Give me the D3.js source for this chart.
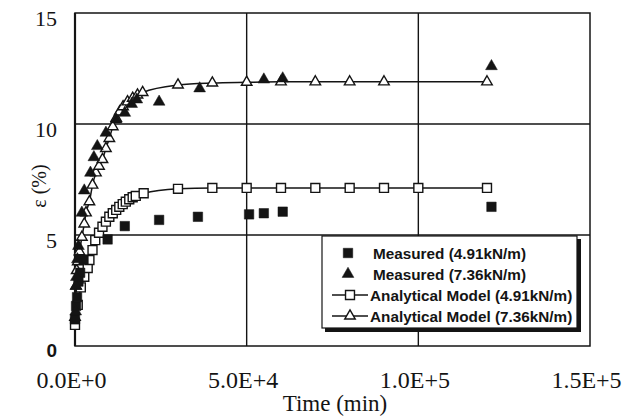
<!DOCTYPE html>
<html>
<head>
<meta charset="utf-8">
<script src="https://cdn.jsdelivr.net/npm/d3@7"></script>
<style>
  html, body { margin: 0; padding: 0; background: #fff; }
  svg { display: block; }
</style>
</head>
<body>
<svg id="chart" width="629" height="418"></svg>
<script>
// Creep strain vs. time: measured data and analytical model for two loads
const xTicks = [0, 50000, 100000, 150000];
const xTickLabels = ["0.0E+0", "5.0E+4", "1.0E+5", "1.5E+5"];
const yTicks = [0, 5, 10, 15];
const yTickLabels = ["0", "5", "10", "15"];

const seriesNames = [
  "Measured (4.91kN/m)",
  "Measured (7.36kN/m)",
  "Analytical Model (4.91kN/m)",
  "Analytical Model (7.36kN/m)"
];

// Measured, 4.91 kN/m
const meas491Time   = [0, 300, 600, 1000, 1500, 2500, 9500, 14500, 24500, 35800, 50700, 55000, 60500, 121300];
const meas491Strain = [1.2, 1.8, 2.2, 2.9, 3.3, 3.9, 4.8, 5.4, 5.68, 5.82, 5.93, 5.98, 6.05, 6.27];

// Measured, 7.36 kN/m
const meas736Time   = [200, 300, 400, 700, 1000, 2000, 2700, 4500, 5500, 6500, 9000, 12000, 14500, 16500, 18000, 24500, 36300, 55000, 60500, 121300];
const meas736Strain = [1.55, 2.7, 3.1, 3.9, 4.5, 6.0, 7.0, 7.8, 8.5, 9.0, 9.6, 10.2, 10.5, 10.9, 11.1, 11.0, 11.6, 12.0, 12.05, 12.6];

// Analytical model, 4.91 kN/m
const model491Time   = [0, 800, 1700, 2700, 3700, 4200, 5100, 5900, 7000, 8000, 9000, 10000, 11000, 12000, 12900, 13900, 14800, 15800, 16800, 17700, 20000, 30000, 40000, 50000, 60000, 70000, 80000, 90000, 100000, 120000];
const model491Strain = [0.95, 1.85, 2.64, 3.12, 3.51, 3.87, 4.32, 4.77, 5.10, 5.37, 5.60, 5.82, 5.98, 6.13, 6.27, 6.39, 6.50, 6.61, 6.70, 6.76, 6.88, 7.08, 7.12, 7.12, 7.12, 7.12, 7.12, 7.12, 7.12, 7.12];

// Analytical model, 7.36 kN/m
const model736Time   = [0, 300, 500, 800, 1300, 2000, 2700, 3200, 4200, 5100, 6100, 7000, 8000, 9000, 10000, 11000, 12000, 13000, 14000, 15300, 16800, 18200, 19700, 30000, 40000, 50000, 60000, 70000, 80000, 90000, 120000];
const model736Strain = [1.3, 2.7, 3.4, 3.8, 4.25, 4.9, 5.5, 6.0, 6.5, 7.25, 7.8, 8.1, 8.4, 8.9, 9.35, 9.88, 10.26, 10.55, 10.78, 11.0, 11.16, 11.31, 11.42, 11.76, 11.85, 11.88, 11.9, 11.9, 11.9, 11.9, 11.9];

const zip = (t, v) => t.map((d, i) => ({ t: d, v: v[i] }));
const meas491 = zip(meas491Time, meas491Strain);
const meas736 = zip(meas736Time, meas736Strain);
const model491 = zip(model491Time, model491Strain);
const model736 = zip(model736Time, model736Strain);

const svg = d3.select("#chart");
const ink = "#141414";
const serif = "'Liberation Serif', 'DejaVu Serif', serif";
const sans = "'Liberation Sans', Arial, sans-serif";

const x = d3.scaleLinear().domain([0, 150000]).range([75, 590]);
const y = d3.scaleLinear().domain([0, 15]).range([346, 13]);

// Grid lines
const grid = svg.append("g").attr("stroke", ink).attr("stroke-width", 1.4);
grid.selectAll("line.h").data([5, 10]).join("line")
  .attr("x1", x(0)).attr("x2", x(150000))
  .attr("y1", d => y(d)).attr("y2", d => y(d));
grid.selectAll("line.v").data([50000, 100000]).join("line")
  .attr("x1", d => x(d)).attr("x2", d => x(d))
  .attr("y1", y(0)).attr("y2", y(15));

// Plot frame
svg.append("rect")
  .attr("x", x(0)).attr("y", y(15))
  .attr("width", x(150000) - x(0)).attr("height", y(0) - y(15))
  .attr("fill", "none").attr("stroke", ink).attr("stroke-width", 1.5);
svg.append("line")
  .attr("x1", x(0)).attr("x2", x(0)).attr("y1", y(15)).attr("y2", y(0))
  .attr("stroke", ink).attr("stroke-width", 2.2);

// Axes (labels only)
const xAxis = d3.axisBottom(x).tickValues(xTicks).tickSize(0)
  .tickFormat((d, i) => xTickLabels[i]);
const gx = svg.append("g").attr("transform", `translate(0, ${y(0)})`).call(xAxis);
gx.select(".domain").remove();
gx.selectAll("text")
  .attr("dx", -4).attr("dy", 0).attr("y", 42)
  .attr("font-family", serif).attr("font-size", 24).attr("fill", ink);

const yAxis = d3.axisLeft(y).tickValues(yTicks).tickSize(0)
  .tickFormat((d, i) => yTickLabels[i]);
const gy = svg.append("g").attr("transform", `translate(${x(0)}, 0)`).call(yAxis);
gy.select(".domain").remove();
gy.selectAll("text")
  .attr("x", -18).attr("dy", "0.55em")
  .attr("font-family", d => d === 0 ? sans : serif)
  .attr("font-weight", d => d === 0 ? "bold" : "normal")
  .attr("font-size", d => d === 0 ? 19 : 22).attr("fill", ink);

// Axis titles
svg.append("text")
  .attr("x", 335).attr("y", 411).attr("text-anchor", "middle")
  .attr("font-family", serif).attr("font-size", 23).attr("fill", ink)
  .text("Time (min)");
svg.append("text")
  .attr("transform", "translate(46, 186) rotate(-90)")
  .attr("text-anchor", "middle")
  .attr("font-family", serif).attr("font-size", 20).attr("fill", ink)
  .text("ε (%)");

// Model curves
const line = d3.line().x(d => x(d.t)).y(d => y(d.v)).curve(d3.curveMonotoneX);
[model491, model736].forEach(s => {
  svg.append("path").datum(s).attr("d", line)
    .attr("fill", "none").attr("stroke", ink).attr("stroke-width", 1.5);
});

const sq = d3.symbol(d3.symbolSquare, 80)();
const sqFill = d3.symbol(d3.symbolSquare, 90)();
const tri = d3.symbol(d3.symbolTriangle, 48)();
const triFill = d3.symbol(d3.symbolTriangle, 60)();

function markers(data, path, fill) {
  svg.append("g").selectAll("path").data(data).join("path")
    .attr("transform", d => `translate(${x(d.t)}, ${y(d.v)})`)
    .attr("d", path)
    .attr("fill", fill ? ink : "#fff")
    .attr("stroke", ink).attr("stroke-width", fill ? 0.5 : 1.4);
}
markers(model491, sq, false);
markers(model736, tri, false);
markers(meas491, sqFill, true);
markers(meas736, triFill, true);

// Legend
const lg = svg.append("g");
lg.append("rect").attr("x", 325).attr("y", 239).attr("width", 256).attr("height", 93).attr("fill", ink);
lg.append("rect").attr("x", 322).attr("y", 236).attr("width", 255).attr("height", 92)
  .attr("fill", "#fff").attr("stroke", ink).attr("stroke-width", 1.2);

const legendRows = [
  { name: seriesNames[0], y: 253, sym: sqFill, fill: true, line: false },
  { name: seriesNames[1], y: 274, sym: triFill, fill: true, line: false },
  { name: seriesNames[2], y: 295, sym: sq, fill: false, line: true },
  { name: seriesNames[3], y: 316, sym: tri, fill: false, line: true }
];
legendRows.forEach(r => {
  if (r.line) {
    lg.append("line").attr("x1", 332).attr("x2", 368).attr("y1", r.y).attr("y2", r.y)
      .attr("stroke", ink).attr("stroke-width", 1.5);
  }
  lg.append("path").attr("transform", `translate(${r.line ? 350 : 348}, ${r.y})`)
    .attr("d", r.sym)
    .attr("fill", r.fill ? ink : "#fff").attr("stroke", ink)
    .attr("stroke-width", r.fill ? 0.5 : 1.4);
  lg.append("text")
    .attr("x", r.line ? 370 : 373).attr("y", r.y).attr("dy", "0.36em")
    .attr("font-family", sans).attr("font-weight", "bold").attr("font-size", 15.3)
    .attr("fill", ink)
    .text(r.name);
});
</script>
</body>
</html>
